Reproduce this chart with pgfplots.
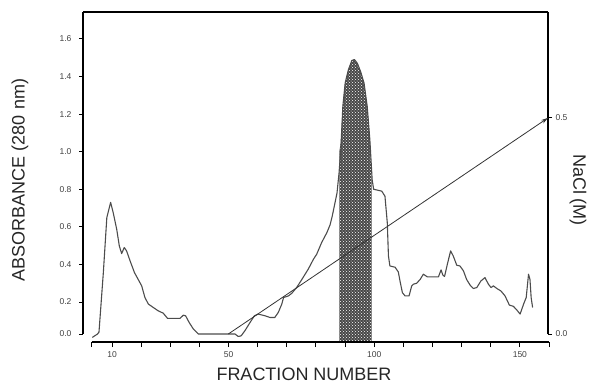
\documentclass[border=0pt]{standalone}
\usepackage{pgfplots}
\pgfplotsset{compat=1.18}
\usepackage{fontspec}
\setmainfont{Liberation Sans}
\usetikzlibrary{patterns,arrows.meta}

\begin{document}
\begin{tikzpicture}[x=1pt,y=1pt]
\path[use as bounding box] (0,0) rectangle (589,384);

% main absorbance axis
\begin{axis}[
  at={(83pt,50pt)}, anchor=south west, scale only axis,
  width=465pt, height=322pt,
  xmin=0, xmax=160, ymin=0.03, ymax=1.743,
  axis x line=none, axis y line*=left, clip=false,
  ytick={0.03,0.2,0.4,0.6,0.8,1.0,1.2,1.4,1.6},
  yticklabels={0.0,0.2,0.4,0.6,0.8,1.0,1.2,1.4,1.6},
  tick align=outside, major tick length=4pt,
  tick style={line width=1pt, black},
  axis line style={line width=1.3pt, black},
  yticklabel style={font=\fontsize{8.5}{9}\selectfont, text=black!75, xshift=-4pt},
]
\addplot[draw=none, fill=black!72] coordinates {
 (88.2,-0.01) (88.2,1.0) (88.7,1.05) (89.4,1.24) (90.2,1.365) (91.3,1.435) (92.5,1.485)
 (93.4,1.49) (94.4,1.47) (95.5,1.427) (96.7,1.365) (97.8,1.24) (98.7,1.064) (99.3,0.85) (99.3,-0.01)
} -- cycle;
\addplot[draw=none, pattern=crosshatch dots, pattern color=white] coordinates {
 (88.2,-0.01) (88.2,1.0) (88.7,1.05) (89.4,1.24) (90.2,1.365) (91.3,1.435) (92.5,1.485)
 (93.4,1.49) (94.4,1.47) (95.5,1.427) (96.7,1.365) (97.8,1.24) (98.7,1.064) (99.3,0.85) (99.3,-0.01)
} -- cycle;
\addplot[color=black!70, line width=1.1pt, line join=round] coordinates {
 (3.2,0.012) (5.0,0.03) (5.5,0.04) (7.0,0.357) (8.2,0.65) (8.7,0.68) (9.5,0.73)
 (10.4,0.675) (11.6,0.587) (12.5,0.498) (13.3,0.458) (14.2,0.49) (15.0,0.472)
 (16.2,0.419) (17.7,0.357) (19.0,0.32) (20.2,0.286) (21.3,0.224) (22.5,0.189)
 (24.2,0.171) (25.9,0.153) (27.6,0.141) (29.1,0.113) (33.4,0.113) (34.5,0.13)
 (35.3,0.127) (36.5,0.092) (38,0.056) (39.7,0.03) (52.3,0.03) (53.4,0.017)
 (54.4,0.02) (55.7,0.047) (57.5,0.092) (59,0.127) (60.3,0.136) (62.6,0.127)
 (64.3,0.118) (66,0.118) (67.2,0.145) (68.4,0.189) (69,0.224) (70.7,0.233)
 (71.8,0.246) (73.5,0.277) (75.3,0.32) (77.5,0.375) (79.3,0.428) (80.4,0.454)
 (82.1,0.516) (83.9,0.569) (85,0.61) (85.8,0.66) (86.6,0.72) (87.4,0.78)
 (88.1,0.887) (88.7,1.01) (89.4,1.24) (90.2,1.365) (91.3,1.435) (92.5,1.485)
 (93.4,1.49) (94.4,1.47) (95.5,1.427) (96.7,1.365) (97.8,1.24) (98.7,1.064)
 (99.5,0.85) (100,0.8) (102.8,0.79) (103.9,0.763) (104.7,0.622) (105.1,0.445)
 (105.6,0.392) (107.4,0.385) (108.5,0.36) (109.1,0.31) (109.9,0.25) (110.8,0.233)
 (112.2,0.233) (113.1,0.286) (113.7,0.295) (114.8,0.3) (116,0.32) (117.1,0.348)
 (118.5,0.334) (122.3,0.334) (123.2,0.371) (123.8,0.344) (124.4,0.336)
 (125.5,0.41) (126.5,0.472) (127.4,0.445) (128.6,0.396) (129.7,0.392)
 (130.9,0.366) (132,0.32) (133.2,0.29) (134.3,0.272) (135.5,0.277) (136.9,0.312)
 (138.3,0.33) (139.5,0.295) (140.4,0.277) (141.2,0.286) (142.4,0.272)
 (143.8,0.259) (145.2,0.233) (146.7,0.184) (148.1,0.177) (149.2,0.159)
 (150.4,0.136) (151.6,0.189) (152.5,0.224) (153.3,0.348) (153.8,0.32)
 (154.2,0.224) (154.7,0.171)
};
\draw[line width=1.3pt, black] (rel axis cs:0,1) -- (rel axis cs:1,1);
\end{axis}

% right NaCl axis
\begin{axis}[
  at={(83pt,50pt)}, anchor=south west, scale only axis,
  width=465pt, height=322pt,
  xmin=0, xmax=160, ymin=0, ymax=0.745,
  axis x line=none, axis y line*=right, clip=false,
  ytick={0,0.5}, yticklabels={0.0,0.5},
  tick align=outside, major tick length=4pt,
  tick style={line width=1pt, black},
  axis line style={line width=1.3pt, black},
  yticklabel style={font=\fontsize{8.5}{9}\selectfont, text=black!75, anchor=west, xshift=0pt},
]
\addplot[color=black!80, line width=0.8pt, -{Stealth[length=7pt,width=4pt]}] coordinates {(50,0) (160,0.5)};
\end{axis}

% bottom fraction axis
\begin{axis}[
  at={(91.7pt,42pt)}, anchor=south west, scale only axis,
  width=457.3pt, height=10pt,
  xmin=3, xmax=160, ymin=0, ymax=1,
  axis x line*=bottom, axis y line=none,
  xtick={3,10,20,30,40,50,60,70,80,90,100,110,120,130,140,150,160},
  xticklabels={,10,,,,50,,,,,100,,,,,150,},
  tick align=outside, major tick length=5pt,
  tick style={line width=1pt, black},
  axis line style={line width=1.3pt, black},
  xticklabel style={font=\fontsize{8.5}{9}\selectfont, text=black!75, yshift=-1pt},
]
\addplot[draw=none] coordinates {(3,0) (160,0)};
\end{axis}

\node[rotate=90, font=\fontsize{18}{20}\selectfont, text=black!85] at (20,204) {ABSORBANCE (280 nm)};
\node[font=\fontsize{18}{20}\selectfont, text=black!85] at (304,10) {FRACTION NUMBER};
\node[rotate=-90, font=\fontsize{18}{20}\selectfont, text=black!85] at (578,194) {NaCl (M)};
\end{tikzpicture}
\end{document}
